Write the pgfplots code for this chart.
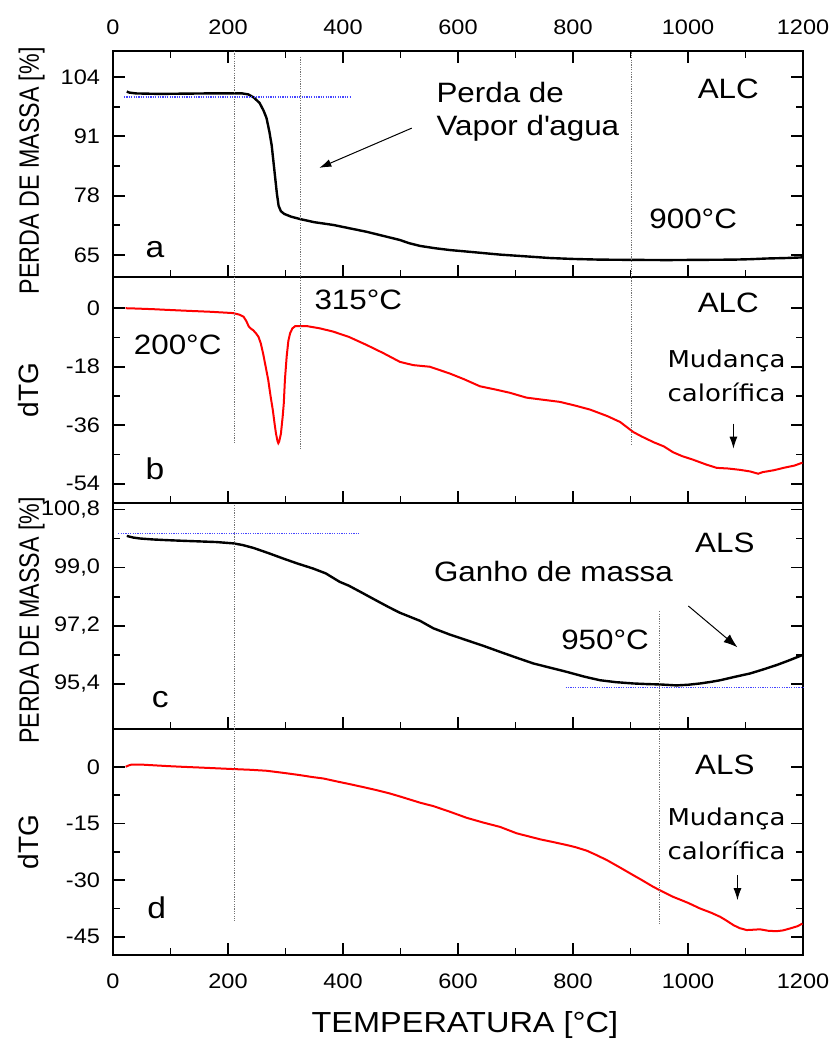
\documentclass[border=0pt]{standalone}
\usepackage{fontspec}
\setmainfont{Liberation Sans}[FakeStretch=1.12]
\newfontfamily\plainsans{Liberation Sans}
\newfontfamily\dejavu{DejaVu Sans}[FakeStretch=1.12]
\usepackage{pgfplots}
\pgfplotsset{compat=1.18}
\usetikzlibrary{arrows.meta}

\pgfplotsset{
  tgpanel/.style={
    width=345pt, height=113pt, scale only axis,
    xmin=0, xmax=1200, xtick={0,200,...,1200},
    minor x tick num=1, minor y tick num=1,
    axis line style={line width=1.1pt},
    tick style={black, line width=0.9pt},
    major tick length=6pt, minor tick length=3.5pt,
    tick label style={font=\fontsize{10.5pt}{12pt}\selectfont},
    /pgf/number format/assume math mode=true,
    /pgf/number format/set thousands separator={},
    yticklabel style={xshift=-3pt},
    xticklabel style={yshift=-6pt},
    clip=false,
    ylabel style={at={(axis description cs:-0.123,0.5)}, anchor=center},
  },
}
\tikzset{
  tgcurve/.style={black, line width=1.2pt},
  dtgcurve/.style={red, line width=1pt},
  refline/.style={black!55, line width=0.45pt, dash pattern=on 0.6pt off 0.6pt},
  blueline/.style={color={rgb,255:red,70;green,70;blue,255}, line width=0.6pt, dash pattern=on 0.6pt off 0.6pt},
}
\newcommand{\annfont}{\fontsize{14pt}{16.5pt}\selectfont}
\newcommand{\tagfont}{\fontsize{15pt}{17pt}\selectfont}
\newcommand{\mudfont}{\dejavu\fontsize{11.6pt}{17pt}\selectfont}
\newcommand{\perda}{{\plainsans\fontsize{14pt}{16pt}\selectfont\scalebox{0.83}[1]{PERDA DE MASSA [\%]}}}

\begin{document}
\begin{tikzpicture}
\path[use as bounding box] (-56.5pt,-43.5pt) rectangle (361pt,477.5pt);

% ---------------- (a) ALC, TG ----------------
\begin{axis}[tgpanel, at={(0,339pt)}, anchor=south west,
  ymin=60.2, ymax=109.7,
  ytick={65,78,91,104}, yticklabels={65,78,91,104},
  xticklabel pos=right,
  xticklabel style={yshift=10.5pt},
  ylabel={\perda},
  ylabel style={at={(axis description cs:-0.118,0.47)}},
]
\addplot[tgcurve, mark=none] coordinates {
(24,100.8) (28,100.6) (40,100.4) (80,100.3) (120,100.35) (160,100.4) (200,100.4)
(225,100.4) (235,100.2) (245,99.5) (255,98.3) (262,96.6) (267,95.0) (272,92.0)
(276,89.0) (279,85.5) (282,82.0) (285,78.5) (288,75.8) (292,74.6) (298,74.0)
(310,73.4) (325,72.9) (350,72.2) (383,71.6) (410,70.9) (441,70.1) (470,69.2)
(499,68.3) (515,67.6) (534,67.0) (560,66.5) (586,66.1) (630,65.6) (673,65.1)
(720,64.7) (760,64.35) (800,64.15) (847,64.0) (900,63.95) (963,63.9) (1020,63.95)
(1079,64.0) (1110,64.1) (1137,64.25) (1170,64.35) (1200,64.5)
};
\draw[blueline] (axis cs:19,99.6) -- (axis cs:415,99.6);
\coordinate (A212) at (axis cs:212,109.7);
\coordinate (A326) at (axis cs:326,108.4);
\coordinate (A902) at (axis cs:902,109.4);
\node[font=\annfont] at (axis cs:1070,101.5) {ALC};
\node[font=\annfont, align=left, anchor=west, inner sep=0pt] at (axis cs:562,96.36)
  {Perda de\\Vapor d\textquotesingle agua};
\draw[-{Latex[length=6pt,width=4pt]}, line width=0.5pt] (axis cs:519.5,92.8) -- (axis cs:358.8,84.1);
\node[font=\annfont] at (axis cs:1009,72.9) {900°C};
\node[font=\tagfont] at (axis cs:73,66.3) {a};
\end{axis}

% ---------------- (b) ALC, dTG ----------------
\begin{axis}[tgpanel, at={(0,226pt)}, anchor=south west,
  ymin=-59.9, ymax=9.6,
  ytick={-54,-36,-18,0}, yticklabels={-54,-36,-18,0},
  xtick pos=left, xticklabels={},
  ylabel={{\plainsans\fontsize{14pt}{16pt}\selectfont dTG}},
]
\addplot[dtgcurve, mark=none] coordinates {
(22,0) (40,-0.1) (70,-0.3) (93,-0.5) (130,-0.8) (170,-1.1) (209,-1.5) (220,-2.0)
(227,-2.6) (232,-4.0) (236,-5.6) (240,-6.3) (244,-6.8) (249,-7.8) (253,-8.8)
(257,-10.8) (261,-13.9) (265,-17.5) (270,-22.1) (274,-27.0) (278,-31.4) (281,-35.5)
(283.5,-38.6) (286,-40.8) (287.5,-41.5) (289,-41.0) (292,-38.6) (295,-33.5)
(297,-29.3) (299,-22.0) (302,-14.9) (305,-10.0) (308,-7.7) (312,-6.2) (317,-5.5)
(337,-5.5) (360,-6.2) (383,-7.2) (410,-8.8) (441,-11.3) (470,-13.8) (499,-16.5)
(522,-17.5) (551,-18.0) (586,-20.1) (610,-21.8) (638,-24.0) (665,-25.0) (690,-26.0)
(719,-27.5) (750,-28.2) (777,-28.8) (805,-30.0) (830,-31.2) (860,-33.2) (882,-35.0)
(905,-38.1) (920,-39.5) (940,-41.2) (958,-42.5) (974,-44.3) (990,-45.5) (1009,-46.6)
(1032,-48.1) (1050,-49.1) (1070,-49.3) (1090,-49.7) (1108,-50.2) (1122,-50.9)
(1130,-50.4) (1137,-50.2) (1150,-49.8) (1166,-49.1) (1185,-48.4) (1199,-47.5)
};
\coordinate (B212) at (axis cs:212,-41.6);
\coordinate (B326) at (axis cs:326,-43.2);
\coordinate (B902) at (axis cs:902,-42.2);
\node[font=\annfont] at (axis cs:426.6,2.56) {315°C};
\node[font=\annfont] at (axis cs:112.5,-11.3) {200°C};
\node[font=\annfont] at (axis cs:1070,1.5) {ALC};
\node[font=\mudfont, align=center] at (axis cs:1067,-20.95) {Mudança\\calorífica};
\draw[-{Latex[length=6pt,width=4pt]}, line width=0.5pt] (axis cs:1079,-35.5) -- (axis cs:1079,-43.2);
\node[font=\tagfont] at (axis cs:73,-49.4) {b};
\end{axis}

% ---------------- (c) ALS, TG ----------------
\begin{axis}[tgpanel, at={(0,113pt)}, anchor=south west,
  ymin=94.0, ymax=101.0,
  ytick={95.4,97.2,99.0,100.8}, yticklabels={{95,4},{97,2},{99,0},{100,8}},
  xtick pos=left, xticklabels={},
  ylabel={\perda},
  ylabel style={at={(axis description cs:-0.118,0.48)}},
]
\addplot[tgcurve, mark=none] coordinates {
(24,99.98) (35,99.93) (47,99.90) (70,99.87) (93,99.85) (120,99.83) (151,99.81)
(180,99.79) (209,99.75) (225,99.70) (244,99.61) (270,99.45) (296,99.28) (320,99.13)
(348,98.97) (370,98.82) (394,98.56) (410,98.44) (430,98.25) (459,97.97) (480,97.77)
(499,97.60) (534,97.35) (557,97.12) (585,96.93) (615,96.75) (645,96.57) (673,96.39)
(700,96.22) (731,96.03) (760,95.9) (789,95.77) (820,95.62) (847,95.51) (875,95.45)
(905,95.41) (930,95.39) (951,95.38) (980,95.35) (1000,95.37) (1021,95.41)
(1040,95.46) (1056,95.51) (1080,95.61) (1108,95.72) (1130,95.84) (1154,95.98)
(1175,96.12) (1199,96.29)
};
\draw[blueline] (axis cs:9,100.05) -- (axis cs:427,100.05);
\draw[blueline] (axis cs:787,95.29) -- (axis cs:1203,95.29);
\coordinate (C212) at (axis cs:212,100.93);
\coordinate (C950) at (axis cs:950,97.65);
\node[font=\annfont] at (axis cs:1064,99.75) {ALS};
\node[font=\annfont] at (axis cs:766,98.87) {Ganho de massa};
\node[font=\annfont] at (axis cs:855.7,96.75) {950°C};
\draw[-{Latex[length=7pt,width=5pt]}, line width=0.5pt] (axis cs:1000.6,97.81) -- (axis cs:1086,96.53);
\node[font=\tagfont] at (axis cs:82,94.9) {c};
\end{axis}

% ---------------- (d) ALS, dTG ----------------
\begin{axis}[tgpanel, at={(0,0pt)}, anchor=south west,
  ymin=-49.8, ymax=10,
  ytick={-45,-30,-15,0}, yticklabels={-45,-30,-15,0},
  xtick pos=left,
  ylabel={{\plainsans\fontsize{14pt}{16pt}\selectfont dTG}},
  xlabel={{\fontsize{14.5pt}{16pt}\selectfont TEMPERATURA [°C]}},
  xlabel style={at={(axis description cs:0.51,-0.31)}, anchor=center},
]
\addplot[dtgcurve, mark=none] coordinates {
(22,0) (28,0.4) (33,0.6) (47,0.6) (70,0.4) (93,0.2) (120,0) (151,-0.2) (180,-0.4)
(209,-0.6) (240,-0.8) (267,-1.05) (296,-1.6) (325,-2.2) (346,-2.7) (366,-3.1)
(390,-3.9) (412,-4.6) (436,-5.4) (459,-6.2) (480,-7.0) (499,-7.85) (534,-9.5)
(557,-10.4) (586,-11.9) (615,-13.5) (645,-14.8) (673,-15.9) (702,-17.6) (720,-18.3)
(743,-19.2) (765,-19.9) (789,-20.7) (805,-21.3) (824,-22.2) (840,-23.3) (859,-24.7)
(880,-26.5) (905,-28.7) (920,-30.0) (940,-31.8) (958,-33.2) (974,-34.4) (1000,-36.0)
(1021,-37.5) (1040,-38.6) (1056,-39.7) (1068,-40.8) (1079,-41.9) (1090,-42.7)
(1102,-43.2) (1115,-43.1) (1125,-43.0) (1140,-43.4) (1154,-43.5) (1165,-43.3)
(1177,-42.8) (1190,-42.2) (1199,-41.5)
};
\coordinate (D212) at (axis cs:212,-40.8);
\coordinate (D950) at (axis cs:950,-41.45);
\node[font=\annfont] at (axis cs:1064,0.45) {ALS};
\node[font=\mudfont, align=center] at (axis cs:1067,-17.7) {Mudança\\calorífica};
\draw[-{Latex[length=6pt,width=4pt]}, line width=0.5pt] (axis cs:1086,-28.7) -- (axis cs:1086,-35.3);
\node[font=\tagfont] at (axis cs:76,-37.2) {d};
\end{axis}

% reference temperatures crossing the stacked panels
\draw[refline] (A212) -- (B212);
\draw[refline] (A326) -- (B326);
\draw[refline] (A902) -- (B902);
\draw[refline] (C212) -- (D212);
\draw[refline] (C950) -- (D950);
\end{tikzpicture}
\end{document}
